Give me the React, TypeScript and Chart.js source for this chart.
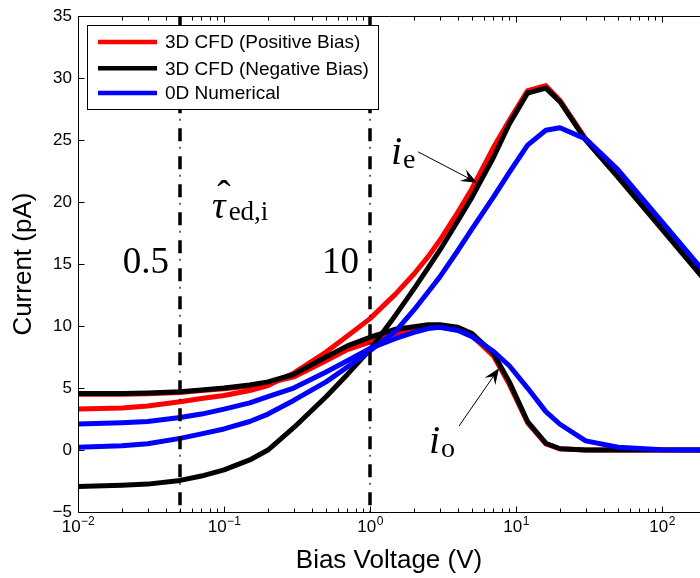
import React, { useEffect, useRef } from 'react';
import { Chart, registerables } from 'chart.js';

Chart.register(...registerables);

// ---------------- data ----------------
const voltages = [0.01, 0.02, 0.03, 0.05, 0.07, 0.1, 0.15, 0.2, 0.3, 0.5, 0.7, 1, 1.5, 2, 2.5, 3, 4, 5, 7, 9, 12, 16, 20, 30, 50, 100, 200];

const ieRed = [3.3, 3.4, 3.55, 3.9, 4.15, 4.4, 4.8, 5.2, 6.2, 7.9, 9.2, 10.6, 12.6, 14.2, 15.6, 16.9, 19.2, 21.1, 24.4, 26.6, 29.0, 29.4, 28.2, 25.1, 22.1, 17.9, 13.7];
const ieBlack = [-2.95, -2.85, -2.75, -2.45, -2.1, -1.6, -0.8, 0.0, 1.8, 4.3, 6.1, 8.1, 10.9, 13.0, 14.7, 16.1, 18.5, 20.4, 23.6, 26.3, 28.8, 29.2, 28.1, 25.0, 22.0, 17.8, 13.6];
const ieBlue = [0.22, 0.35, 0.5, 0.94, 1.3, 1.7, 2.3, 2.9, 4.0, 5.5, 6.7, 8.0, 9.6, 11.3, 12.75, 13.95, 16.1, 17.85, 20.4, 22.4, 24.6, 25.8, 26.0, 25.1, 22.6, 18.4, 14.2];

const ioRed = [4.5, 4.5, 4.55, 4.65, 4.8, 4.95, 5.15, 5.4, 5.9, 7.2, 8.1, 8.7, 9.4, 9.75, 9.9, 9.95, 9.7, 9.2, 7.6, 5.3, 2.2, 0.5, 0.1, 0, 0, 0, 0];
const ioBlack = [4.56, 4.56, 4.6, 4.7, 4.85, 5.0, 5.25, 5.5, 6.1, 7.5, 8.4, 9.1, 9.75, 9.95, 10.1, 10.1, 9.9, 9.4, 7.8, 5.5, 2.3, 0.55, 0.1, 0, 0, 0, 0];
const ioBlue = [2.1, 2.2, 2.3, 2.63, 2.9, 3.3, 3.8, 4.3, 5.0, 6.3, 7.2, 8.2, 9.0, 9.5, 9.8, 9.9, 9.65, 9.15, 7.97, 6.8, 5.0, 3.1, 2.08, 0.74, 0.22, 0.02, 0];

const legendLabels = ['3D CFD (Positive Bias)', '3D CFD (Negative Bias)', '0D Numerical'];
const seriesColors = ['#ff0000', '#000000', '#0000ff'];

const xMin = 0.01;
const xMax = 182;
const yMin = -5;
const yMax = 35;
const xDecades = [-2, -1, 0, 1, 2];

const markerVoltages = [0.05, 1];
const markerLabels = ['0.5', '10'];
const xTitle = 'Bias Voltage (V)';
const yTitle = 'Current (pA)';

// ---------------- styles ----------------
const SANS = '"Liberation Sans", Arial, Helvetica, sans-serif';
const SERIF = '"Liberation Serif", "Times New Roman", serif';

const pts = (ys: number[]) => voltages.map((v, i) => ({ x: v, y: ys[i] }));

function arrow(ctx: CanvasRenderingContext2D, x1: number, y1: number, x2: number, y2: number) {
  const a = Math.atan2(y2 - y1, x2 - x1);
  const ux = Math.cos(a), uy = Math.sin(a);
  const L = 16, W = 6.5, N = 0.62;
  ctx.lineWidth = 1;
  ctx.strokeStyle = '#000';
  ctx.beginPath();
  ctx.moveTo(x1, y1);
  ctx.lineTo(x2 - ux * L * N, y2 - uy * L * N);
  ctx.stroke();
  const bx = x2 - ux * L, by = y2 - uy * L;
  ctx.fillStyle = '#000';
  ctx.beginPath();
  ctx.moveTo(x2, y2);
  ctx.lineTo(bx - uy * W, by + ux * W);
  ctx.lineTo(x2 - ux * L * N, y2 - uy * L * N);
  ctx.lineTo(bx + uy * W, by - ux * W);
  ctx.closePath();
  ctx.fill();
}

const decoPlugin = {
  id: 'deco',
  afterDatasetsDraw(chart: any) {
    const { ctx, chartArea: ca, scales } = chart;
    const xs = scales.x, ys = scales.y;
    const px = (v: number) => xs.getPixelForValue(v);
    const py = (v: number) => ys.getPixelForValue(v);
    ctx.save();

    // dash-dot vertical lines
    markerVoltages.forEach((v) => {
      const x = Math.round(px(v));
      ctx.strokeStyle = '#000';
      ctx.lineWidth = 3.5;
      ctx.setLineDash([13, 15]);
      ctx.beginPath();
      ctx.moveTo(x, ca.top);
      ctx.lineTo(x, ca.bottom);
      ctx.stroke();
      ctx.lineWidth = 1.2;
      ctx.setLineDash([0, 18.5, 2, 7.5]);
      ctx.beginPath();
      ctx.moveTo(x, ca.top);
      ctx.lineTo(x, ca.bottom);
      ctx.stroke();
    });
    ctx.setLineDash([]);

    // labels next to the dash-dot lines
    ctx.fillStyle = '#000';
    ctx.textBaseline = 'alphabetic';
    ctx.textAlign = 'right';
    ctx.font = `37px ${SERIF}`;
    markerVoltages.forEach((v, k) => {
      ctx.fillText(markerLabels[k], px(v) - 11, py(14.32));
    });

    // tau hat label
    ctx.textAlign = 'left';
    const tx = px(0.0828), tyb = py(18.75);
    ctx.font = `italic 38px ${SERIF}`;
    ctx.fillText('τ', tx, tyb);
    const tw = ctx.measureText('τ').width;
    ctx.font = `40px ${SERIF}`;
    const hm = ctx.measureText('ˆ');
    ctx.textAlign = 'center';
    ctx.fillText('ˆ', tx + tw / 2 + 5, tyb - 38 + hm.actualBoundingBoxAscent);
    ctx.textAlign = 'left';
    ctx.font = `27px ${SERIF}`;
    ctx.fillText('ed,i', tx + tw + 3, tyb + 2);

    // i_e label + arrow
    const iex = px(1.39), iey = py(23.09);
    ctx.font = `italic 40px ${SERIF}`;
    ctx.fillText('i', iex, iey);
    ctx.font = `28px ${SERIF}`;
    ctx.fillText('e', iex + 12, iey + 4);
    arrow(ctx, px(2.13), py(24.06), px(5.41), py(21.57));

    // i_o label + arrow
    const iox = px(2.54), ioy = py(-0.24);
    ctx.font = `italic 40px ${SERIF}`;
    ctx.fillText('i', iox, ioy);
    ctx.font = `28px ${SERIF}`;
    ctx.fillText('o', iox + 12, ioy + 4);
    arrow(ctx, px(4.07), py(1.935), px(7.65), py(6.6));

    ctx.restore();
  },
  afterDraw(chart: any) {
    const { ctx, chartArea: ca, scales, width } = chart;
    const xs = scales.x, ys = scales.y;
    const px = (v: number) => xs.getPixelForValue(v);
    const py = (v: number) => ys.getPixelForValue(v);
    ctx.save();
    ctx.strokeStyle = '#000';
    ctx.lineWidth = 1;
    const L = Math.round(ca.left) + 0.5;
    const T = Math.round(ca.top) + 0.5;
    const B = Math.round(ca.bottom) + 0.5;
    ctx.beginPath();
    ctx.moveTo(L, T);
    ctx.lineTo(width, T);
    ctx.moveTo(L, T);
    ctx.lineTo(L, B);
    ctx.lineTo(width, B);
    ctx.stroke();

    // x ticks (major + minor), bottom and top, pointing inward
    ctx.beginPath();
    xDecades.forEach((d) => {
      for (let m = 1; m <= 9; m++) {
        const v = m * Math.pow(10, d);
        if (v > xMax) continue;
        const x = Math.round(px(v)) + 0.5;
        const len = m === 1 ? 6 : 4;
        ctx.moveTo(x, B);
        ctx.lineTo(x, B - len);
        ctx.moveTo(x, T);
        ctx.lineTo(x, T + len);
      }
    });
    // y ticks
    for (let v = yMin; v <= yMax; v += 5) {
      const y = Math.round(py(v)) + 0.5;
      ctx.moveTo(L, y);
      ctx.lineTo(L + 6, y);
    }
    ctx.stroke();

    // x tick labels 10^d
    ctx.fillStyle = '#000';
    ctx.textBaseline = 'alphabetic';
    ctx.textAlign = 'left';
    xDecades.forEach((d) => {
      const x = px(Math.pow(10, d));
      const exp = d < 0 ? '−' + -d : String(d);
      ctx.font = `17px ${SANS}`;
      const w1 = ctx.measureText('10').width;
      ctx.font = `12px ${SANS}`;
      const w2 = ctx.measureText(exp).width;
      const s = x - (w1 + w2) / 2;
      ctx.font = `17px ${SANS}`;
      ctx.fillText('10', s, 532);
      ctx.font = `12px ${SANS}`;
      ctx.fillText(exp, s + w1 + 0.5, 525);
    });

    // axis titles
    ctx.font = `26px ${SANS}`;
    ctx.textAlign = 'center';
    ctx.fillText(xTitle, (ca.left + ca.right) / 2, 568);
    ctx.save();
    ctx.translate(31, (ca.top + ca.bottom) / 2);
    ctx.rotate(-Math.PI / 2);
    ctx.fillText(yTitle, 0, 0);
    ctx.restore();

    // legend
    const lx = 87.5, ly = 25.5, lw = 291, lh = 84;
    ctx.fillStyle = '#fff';
    ctx.fillRect(lx, ly, lw, lh);
    ctx.strokeStyle = '#000';
    ctx.lineWidth = 1;
    ctx.strokeRect(lx, ly, lw, lh);
    const rows = [42, 68.3, 93];
    ctx.textAlign = 'left';
    ctx.textBaseline = 'middle';
    ctx.font = `19px ${SANS}`;
    legendLabels.forEach((lab, k) => {
      ctx.strokeStyle = seriesColors[k];
      ctx.lineWidth = 4.5;
      ctx.beginPath();
      ctx.moveTo(98, rows[k]);
      ctx.lineTo(157, rows[k]);
      ctx.stroke();
      ctx.fillStyle = '#000';
      ctx.fillText(lab, 165, rows[k] + 1);
    });
    ctx.restore();
  },
};

export default function App() {
  const ref = useRef<HTMLCanvasElement>(null);
  useEffect(() => {
    document.body.style.margin = '0';
    document.body.style.overflow = 'hidden';
    const mk = (data: number[], color: string, order: number) => ({
      data: pts(data),
      borderColor: color,
      backgroundColor: color,
      borderWidth: 5,
      pointRadius: 0,
      tension: 0,
      fill: false,
      order,
      borderJoinStyle: 'round' as const,
    });
    const chart = new Chart(ref.current!, {
      type: 'line',
      data: {
        datasets: [
          mk(ieBlue, seriesColors[2], 0),
          mk(ioBlue, seriesColors[2], 1),
          mk(ieBlack, seriesColors[1], 2),
          mk(ioBlack, seriesColors[1], 3),
          mk(ieRed, seriesColors[0], 4),
          mk(ioRed, seriesColors[0], 5),
        ],
      },
      options: {
        responsive: false,
        animation: false,
        devicePixelRatio: 1,
        layout: { padding: { top: 15, left: 0, right: 0, bottom: 0 } },
        plugins: { legend: { display: false }, tooltip: { enabled: false } },
        scales: {
          x: {
            type: 'logarithmic',
            min: xMin,
            max: xMax,
            ticks: { display: false },
            grid: { display: false, drawTicks: false },
            border: { display: false },
            afterFit: (s: any) => {
              s.height = 66;
            },
          },
          y: {
            type: 'linear',
            min: yMin,
            max: yMax,
            ticks: {
              stepSize: 5,
              color: '#000',
              padding: 6,
              font: { family: SANS, size: 17 },
              callback: (v: any) => (Number(v) < 0 ? '−' + Math.abs(Number(v)) : String(v)),
            },
            grid: { display: false, drawTicks: false },
            border: { display: false },
            afterFit: (s: any) => {
              s.width = 78;
            },
          },
        },
      },
      plugins: [decoPlugin],
    } as any);
    return () => chart.destroy();
  }, []);
  return (
    <div style={{ width: 700, height: 578 }}>
      <canvas ref={ref} width={700} height={578} style={{ display: 'block', width: 700, height: 578 }} />
    </div>
  );
}
